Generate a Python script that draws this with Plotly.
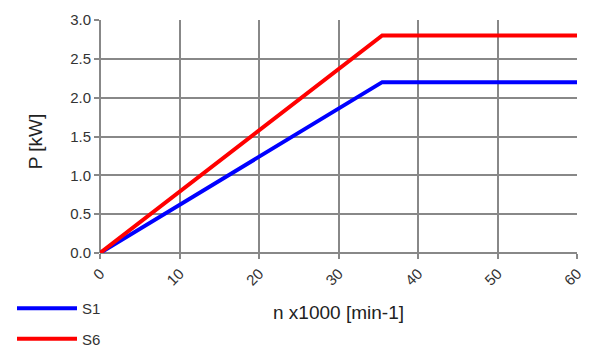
import plotly.graph_objects as go

# data
speed_s1 = [0, 35.5, 60]
power_s1 = [0, 2.2, 2.2]
speed_s6 = [0, 35.5, 60]
power_s6 = [0, 2.8, 2.8]
x_ticks = [0, 10, 20, 30, 40, 50, 60]
y_ticks = [0.0, 0.5, 1.0, 1.5, 2.0, 2.5, 3.0]

fig = go.Figure()
fig.add_trace(go.Scatter(x=speed_s1, y=power_s1, mode="lines", name="S1",
                         line=dict(color="#0000ff", width=4), legendgroup="a"))
fig.add_trace(go.Scatter(x=speed_s6, y=power_s6, mode="lines", name="S6",
                         line=dict(color="#ff0000", width=4), legendgroup="b"))

grid = "#888888"
fig.update_layout(
    width=600, height=354,
    margin=dict(l=100, r=23, t=20, b=101, autoexpand=False),
    plot_bgcolor="white", paper_bgcolor="white",
    font=dict(family="Liberation Sans, Arial, sans-serif", color="#333333", size=14),
    showlegend=True,
    legend=dict(xref="container", yref="container", x=0.02, y=0.175,
                xanchor="left", yanchor="top", tracegroupgap=8,
                font=dict(size=15, color="#333333"), itemwidth=60),
    xaxis=dict(range=[0, 60], tickvals=x_ticks, ticktext=[str(v) for v in x_ticks],
               tickangle=-45, showgrid=True, gridcolor=grid, gridwidth=2,
               showline=False, zeroline=True, zerolinecolor=grid, zerolinewidth=2,
               ticks="outside", ticklen=5, tickwidth=2, tickcolor=grid,
               tickfont=dict(size=15),
               title=dict(text="n x1000 [min-1]", font=dict(size=19, color="#222222"), standoff=17)),
    yaxis=dict(range=[0, 3.0], tickvals=y_ticks, ticktext=[f"{v:.1f}" for v in y_ticks],
               showgrid=True, gridcolor=grid, gridwidth=2,
               showline=False, zeroline=True, zerolinecolor=grid, zerolinewidth=2,
               ticks="outside", ticklen=5, tickwidth=2, tickcolor=grid,
               tickfont=dict(size=15)),
    annotations=[dict(text="P [kW]", xref="paper", yref="paper", x=-0.136, y=0.48,
                      xanchor="center", yanchor="middle", textangle=-90, showarrow=False,
                      font=dict(size=19, color="#222222"))],
)
fig.write_html("out.html")
